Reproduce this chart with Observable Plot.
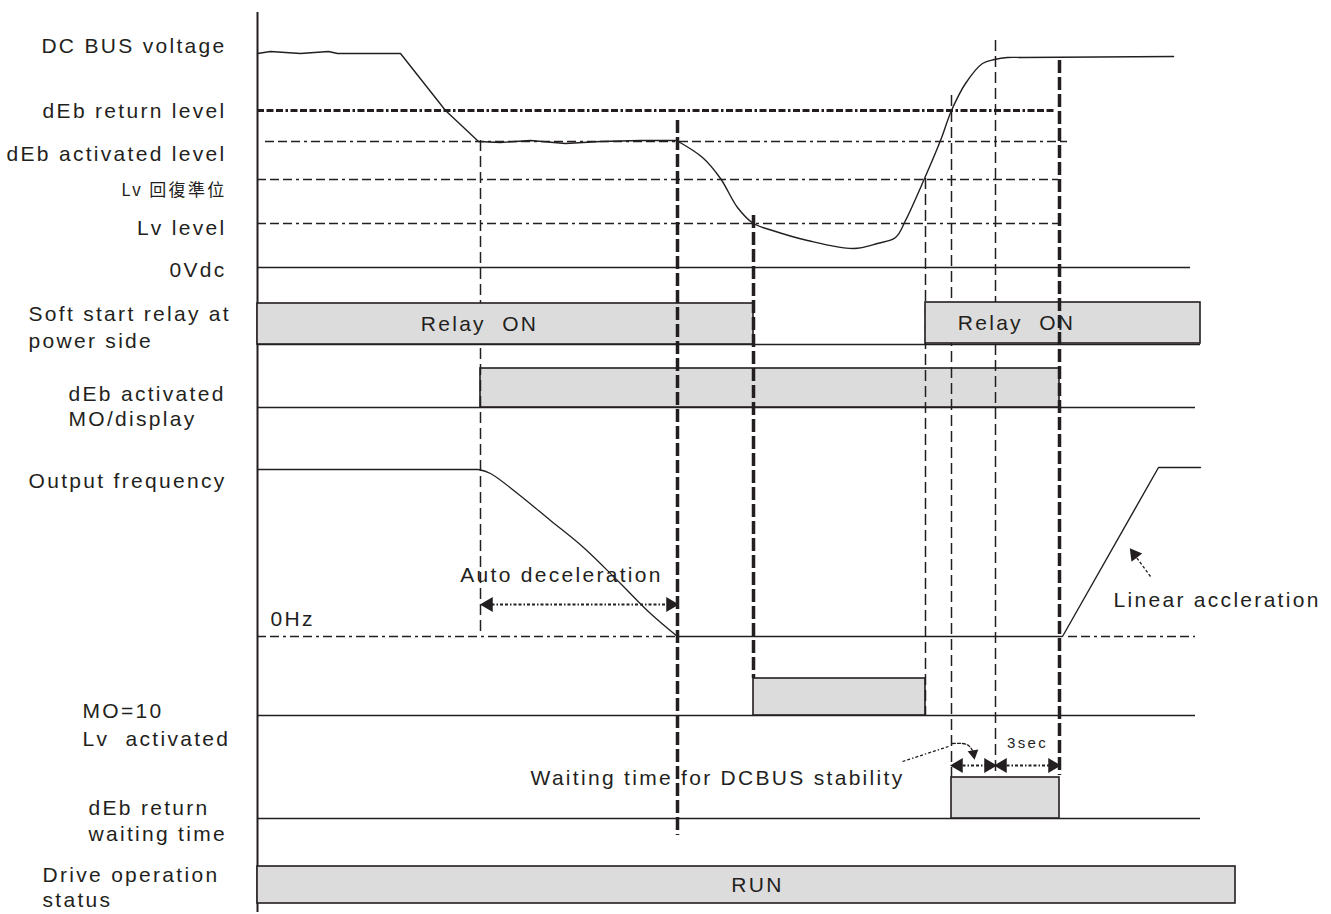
<!DOCTYPE html>
<html><head><meta charset="utf-8">
<script src="https://cdn.jsdelivr.net/npm/d3@7"></script>
<script src="https://cdn.jsdelivr.net/npm/@observablehq/plot@0.6"></script>
<style>
html,body{margin:0;padding:0;background:#fff;overflow:hidden}
#chart svg{overflow:hidden}
#chart svg text{letter-spacing:2.3px}
#chart svg text.cjk{letter-spacing:0.5px}
</style></head><body><div id="chart"></div>
<script>
// ---- time axis (diagram time units) ----
const tStart = 257;
// vertical event markers
const eventTimes = [480, 677, 753, 925, 951, 995, 1059];
const eventKind  = ["thin", "thick", "thick", "thin", "thin", "thin", "thick"];
const eventFrom  = [140, 120, 215, 178, 95, 40, 60];
const eventTo    = [636, 835, 678, 715, 777, 772, 775];

// ---- DC bus voltage levels (diagram units, top = high) ----
const levelNames = ["DC BUS voltage", "dEb return level", "dEb activated level", "Lv 回復準位", "Lv level", "0Vdc"];
const levelValues = [52, 110, 141, 179, 223, 267];
const levelEnds = [null, 1054, 1067, 1058, 1065, 1190];

// DC bus voltage trace
const busT1 = [257, 270, 300, 328, 337, 400, 445, 478, 500, 530, 565, 600, 640, 676];
const busV1 = [53, 51, 53, 51, 53, 53, 110, 141, 142, 140, 143, 141, 140, 140];
const busT2 = [676, 702, 720, 737, 753, 772, 807, 853, 877, 895, 905, 924, 940, 951, 965, 982, 994, 1007, 1020];
const busV2 = [140, 157, 178, 207, 223, 230, 240, 248, 243, 237, 220, 178, 140, 110, 83, 63, 59, 57, 57];
const busT3 = [1020, 1173];
const busV3 = [57, 56];

// ---- output frequency ----
const freqTop = 469;
const freqZero = 636;
const decelT = [478, 490, 517, 550, 583, 617, 650, 677];
const decelF = [469, 473, 493, 520, 547, 580, 613, 636];
const accelT = [1062, 1158, 1200];
const accelF = [636, 467, 467];

// ---- signal rows: baselines and ON intervals ----
const rowNames = ["relay", "debMO", "mo10", "debWait"];
const rowBase = [344, 407, 715, 818];
const rowEnd = [1200, 1195, 1195, 1200];
const onRow   = ["relay", "relay", "debMO", "mo10", "debWait", "run"];
const onStart = [257, 925, 480, 753, 951, 257];
const onStop  = [753, 1200, 1059, 925, 1059, 1235];
const onTop   = [303, 302, 368, 678, 777, 866];
const onBottom = [344, 343, 407, 715, 818, 903];
const onText  = ["Relay  ON", "Relay  ON", "", "", "", "RUN"];
const onTextAt = [479, 1016, null, null, null, 757];

// ---- left labels ----
const sideLabels = ["DC BUS voltage", "dEb return level", "dEb activated level", "Lv level", "0Vdc", "Output frequency"];
const sideY = [46, 111, 154, 228, 270, 481];
const blockLabels = ["Soft start relay at", "power side", "dEb activated", "MO/display", "MO=10", "Lv  activated", "dEb return", "waiting time", "Drive operation", "status"];
const blockX = [28, 28, 68, 68, 82, 82, 88, 88, 42, 42];
const blockY = [314, 341, 394, 419, 711, 739, 808, 834, 875, 900];

const ink = "#231f20";
const gray = "#dcdcdc";

const pts = (xs, ys) => xs.map((x, i) => ({x, y: ys[i]}));
const events = eventTimes.map((x, i) => ({x, kind: eventKind[i], y1: eventFrom[i], y2: eventTo[i]}));
const levels = levelValues.map((y, i) => ({y, name: levelNames[i], x2: levelEnds[i]}));
const spans = onStart.map((s, i) => ({row: onRow[i], x1: s, x2: onStop[i], y1: onTop[i], y2: onBottom[i], text: onText[i], tx: onTextAt[i]}));
const bases = rowBase.map((y, i) => ({y, row: rowNames[i], x2: rowEnd[i]}));

const font = "Liberation Sans, Arial, sans-serif";
const dashDot = "9,4,9,4,9,4,3,4";

const chart = Plot.plot({
  width: 1331, height: 914,
  margin: 0,
  x: {domain: [0, 1331], axis: null},
  y: {domain: [914, 0], range: [914, 0], axis: null},
  style: {fontFamily: font, background: "#fff", color: ink},
  marks: [
    // time axis
    Plot.ruleX([tStart], {y1: 12, y2: 912, stroke: ink, strokeWidth: 2}),
    // level reference lines
    Plot.ruleY(levels.filter(d => d.name === "dEb return level"), {y: "y", x1: tStart, x2: "x2", stroke: ink, strokeWidth: 3, strokeDasharray: "7,2.5,7,2.5,7,2.5,2.5,2.5"}),
    Plot.ruleY(levels.filter(d => d.name === "dEb activated level"), {y: "y", x1: 265, x2: "x2", stroke: ink, strokeWidth: 1.3, strokeDasharray: dashDot}),
    Plot.ruleY(levels.filter(d => ["Lv 回復準位", "Lv level"].includes(d.name)), {y: "y", x1: tStart, x2: "x2", stroke: ink, strokeWidth: 1.3, strokeDasharray: dashDot}),
    Plot.ruleY(levels.filter(d => d.name === "0Vdc"), {y: "y", x1: tStart, x2: "x2", stroke: ink, strokeWidth: 1.6}),
    // DC bus trace
    Plot.line(pts(busT1, busV1), {x: "x", y: "y", stroke: ink, strokeWidth: 1.4}),
    Plot.line(pts(busT2, busV2), {x: "x", y: "y", stroke: ink, strokeWidth: 1.4, curve: "catmull-rom"}),
    Plot.line(pts(busT3, busV3), {x: "x", y: "y", stroke: ink, strokeWidth: 1.6}),
    // row baselines
    Plot.ruleY(bases, {y: "y", x1: tStart, x2: "x2", stroke: ink, strokeWidth: 1.6}),
    // ON intervals (non-relay)
    Plot.rect(spans.filter(d => d.row !== "relay"), {x1: "x1", x2: "x2", y1: "y1", y2: "y2", fill: gray, stroke: ink, strokeWidth: 1.6}),
    // output frequency
    Plot.ruleY([freqTop], {x1: tStart, x2: 478, stroke: ink, strokeWidth: 1.6}),
    Plot.line(pts(decelT, decelF), {x: "x", y: "y", stroke: ink, strokeWidth: 1.3, curve: "catmull-rom"}),
    Plot.ruleY([freqZero], {x1: tStart, x2: 677, stroke: ink, strokeWidth: 1.3, strokeDasharray: "9,4,9,4,3,4"}),
    Plot.ruleY([freqZero], {x1: 677, x2: 1062, stroke: ink, strokeWidth: 1.6}),
    Plot.ruleY([freqZero], {x1: 1068, x2: 1195, stroke: ink, strokeWidth: 1.3, strokeDasharray: "9,4,9,4,3,4"}),
    Plot.line(pts(accelT, accelF), {x: "x", y: "y", stroke: ink, strokeWidth: 1.4}),
    // thin event markers
    Plot.ruleX(events.filter(d => d.kind === "thin"), {x: "x", y1: "y1", y2: "y2", stroke: ink, strokeWidth: 1.5, strokeDasharray: "11,5"}),
    // relay boxes over thin markers
    Plot.rect(spans.filter(d => d.row === "relay"), {x1: "x1", x2: "x2", y1: "y1", y2: "y2", fill: gray, stroke: ink, strokeWidth: 1.6}),
    // thick event markers
    Plot.ruleX(events.filter(d => d.kind === "thick"), {x: "x", y1: "y1", y2: "y2", stroke: ink, strokeWidth: 3.5, strokeDasharray: "13,4"}),
    // duration arrows (dotted)
    Plot.link([{x1: 486, x2: 671, y: 604}, {x1: 957, x2: 989, y: 765}, {x1: 1001, x2: 1053, y: 765}],
      {x1: "x1", x2: "x2", y1: "y", y2: "y", stroke: ink, strokeWidth: 2, strokeDasharray: "3,2,3,2,1.5,2"}),
    Plot.dot([{x: 488, y: 604, r: -90}, {x: 958, y: 765, r: -90}, {x: 1002, y: 765, r: -90}],
      {x: "x", y: "y", rotate: "r", symbol: "triangle", r: 5.5, fill: ink, stroke: "none"}),
    Plot.dot([{x: 670, y: 604, r: 90}, {x: 988, y: 765, r: 90}, {x: 1052, y: 765, r: 90}],
      {x: "x", y: "y", rotate: "r", symbol: "triangle", r: 5.5, fill: ink, stroke: "none"}),
    // leader: waiting time -> interval
    Plot.link([{x1: 902, y1: 761, x2: 948, y2: 746}], {x1: "x1", y1: "y1", x2: "x2", y2: "y2", stroke: ink, strokeWidth: 1.3, strokeDasharray: "3,2,3,2,1.5,2"}),
    Plot.line(pts([952, 962, 968, 972], [743, 743, 745, 750]), {x: "x", y: "y", stroke: ink, strokeWidth: 1.3, strokeDasharray: "3,2", curve: "catmull-rom"}),
    Plot.dot([{x: 973, y: 753}], {x: "x", y: "y", rotate: 170, symbol: "triangle", r: 4, fill: ink}),
    // linear acceleration pointer
    Plot.link([{x1: 1150, y1: 576, x2: 1136, y2: 557}], {x1: "x1", y1: "y1", x2: "x2", y2: "y2", stroke: ink, strokeWidth: 1.3, strokeDasharray: "3,2"}),
    Plot.dot([{x: 1134, y: 554}], {x: "x", y: "y", rotate: -37, symbol: "triangle", r: 5, fill: ink}),
    // box texts
    Plot.text(spans.filter(d => d.text), {x: "tx", y: d => (d.y1 + d.y2) / 2, text: "text", fontSize: 21, fill: ink}),
    // side labels
    Plot.text(sideLabels, {x: 226, y: (d, i) => sideY[i], text: d => d, textAnchor: "end", fontSize: 21, fill: ink}),
    Plot.text(["Lv 回復準位"], {x: 226, y: 190, text: d => d, textAnchor: "end", fontSize: 17, fontFamily: "Noto Sans CJK TC", fill: ink, className: "cjk"}),
    Plot.text(blockLabels, {x: (d, i) => blockX[i], y: (d, i) => blockY[i], text: d => d, textAnchor: "start", fontSize: 21, fill: ink}),
    // annotations
    Plot.text(["0Hz"], {x: 270, y: 619, text: d => d, textAnchor: "start", fontSize: 21, fill: ink}),
    Plot.text(["Auto deceleration"], {x: 561, y: 575, text: d => d, fontSize: 21, fill: ink}),
    Plot.text(["Linear accleration"], {x: 1113, y: 600, text: d => d, textAnchor: "start", fontSize: 21, fill: ink}),
    Plot.text(["Waiting time for DCBUS stability"], {x: 717, y: 778, text: d => d, fontSize: 21, fill: ink}),
    Plot.text(["3sec"], {x: 1027, y: 743, text: d => d, fontSize: 15, fill: ink})
  ]
});
document.getElementById("chart").append(chart);
</script></body></html>
